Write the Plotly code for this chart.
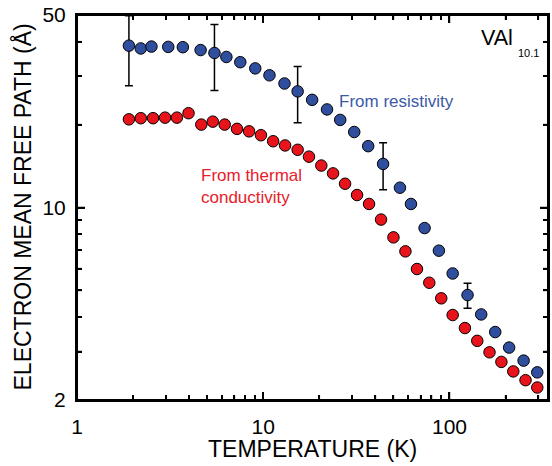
import plotly.graph_objects as go
import math

# ---- data ----
temp_resist = [1.90, 2.20, 2.51, 3.09, 3.70, 4.61, 5.47, 6.34, 7.53, 9.06, 10.8, 13.0, 15.3, 18.3,
               22.0, 25.9, 30.8, 36.6, 44.0, 54.2, 62.1, 73.5, 87.7, 104, 125, 148, 176, 209, 250, 296]
mfp_resist = [38.7, 37.8, 38.4, 38.3, 38.2, 37.3, 36.4, 35.2, 33.7, 32.0, 30.2, 28.2, 26.4, 24.6,
              22.7, 20.8, 18.8, 16.7, 14.4, 11.8, 10.3, 8.42, 6.97, 5.76, 4.81, 4.09, 3.53, 3.10, 2.78, 2.52]
err_resist = [11.0, None, None, None, None, None, 9.8, None, None, None, None, None, 6.1, None,
              None, None, None, None, 2.8, None, None, None, None, None, 0.5, None, None, None, None, None]

temp_thermal = [1.90, 2.20, 2.56, 2.97, 3.44, 3.97, 4.65, 5.36, 6.21, 7.23, 8.39, 9.72, 11.3, 13.1,
                15.3, 17.6, 20.5, 23.7, 27.5, 31.9, 37.0, 42.9, 50.0, 58.0, 66.9, 77.9, 90.3, 104,
                121, 141, 164, 190, 220, 256, 296]
mfp_thermal = [20.9, 21.1, 21.1, 21.2, 21.2, 22.0, 20.0, 20.5, 20.0, 19.3, 18.9, 18.3, 17.4, 16.8,
               16.2, 15.3, 14.2, 13.3, 12.2, 11.1, 10.3, 9.04, 7.79, 6.93, 5.98, 5.33, 4.68, 4.07,
               3.65, 3.28, 2.98, 2.75, 2.54, 2.36, 2.22]

x_major = [1, 10, 100]
x_minor = [2, 3, 4, 5, 6, 7, 8, 9, 20, 30, 40, 50, 60, 70, 80, 90, 200, 300]
y_major = [2, 10, 50]
y_minor = [3, 4, 5, 6, 7, 8, 9, 20, 30, 40]

X_MIN, X_MAX = 1, 338
Y_MIN, Y_MAX = 2, 50

BLUE = "#2f4f9e"
RED = "#e8141c"
FONT = "Liberation Sans, Arial, Helvetica, sans-serif"

fig = go.Figure()
fig.add_trace(go.Scatter(
    x=temp_thermal, y=mfp_thermal, mode="markers", name="From thermal conductivity",
    marker=dict(size=11.5, color=RED, line=dict(color="black", width=1)),
))
fig.add_trace(go.Scatter(
    x=temp_resist, y=mfp_resist, mode="markers", name="From resistivity",
    marker=dict(size=11.5, color=BLUE, line=dict(color="black", width=1)),
    error_y=dict(type="data", array=err_resist, symmetric=True, color="black",
                 thickness=1.5, width=4),
))

minor = dict(ticks="inside", ticklen=5, tickwidth=1.5, tickcolor="black",
             dtick="D1", showgrid=False)

axis_common = dict(
    type="log", showline=True, linecolor="black", linewidth=2, mirror="allticks",
    ticks="inside", ticklen=8, tickwidth=1.5, tickcolor="black",
    showgrid=False, zeroline=False, tickmode="array",
    tickfont=dict(family=FONT, size=21, color="black"),
    minor=minor,
)

fig.update_layout(
    xaxis=dict(**axis_common, range=[math.log10(X_MIN), math.log10(X_MAX)], tickvals=x_major,
               ticktext=[str(v) for v in x_major], ticklabelstandoff=7),
    yaxis=dict(**axis_common, range=[math.log10(Y_MIN), math.log10(Y_MAX)], tickvals=y_major,
               ticktext=[str(v) for v in y_major], ticklabelstandoff=5),
)

# frame and inside tick marks on all four sides, drawn as shapes on the axes' scales
TICK = dict(color="black", width=1.5)
shapes = [dict(type="rect", xref="paper", yref="paper", x0=0, x1=1, y0=0, y1=1,
               fillcolor="rgba(0,0,0,0)", opacity=1, layer="above",
               line=dict(color="black", width=2))]
for vals, ln in ((x_major, 8), (x_minor, 5)):
    for v in vals:
        shapes.append(dict(type="line", xref="x", yref="paper", x0=v, x1=v,
                           ysizemode="pixel", yanchor=0, y0=0, y1=ln,
                           opacity=1, layer="above", line=TICK))
        shapes.append(dict(type="line", xref="x", yref="paper", x0=v, x1=v,
                           ysizemode="pixel", yanchor=1, y0=0, y1=-ln,
                           opacity=1, layer="above", line=TICK))
for vals, ln in ((y_major, 8), (y_minor, 5)):
    for v in vals:
        shapes.append(dict(type="line", xref="paper", yref="y", y0=v, y1=v,
                           xsizemode="pixel", xanchor=0, x0=0, x1=ln,
                           opacity=1, layer="above", line=TICK))
        shapes.append(dict(type="line", xref="paper", yref="y", y0=v, y1=v,
                           xsizemode="pixel", xanchor=1, x0=0, x1=-ln,
                           opacity=1, layer="above", line=TICK))

annotations = [
    dict(text="TEMPERATURE (K)", xref="paper", yref="paper", x=0.5, y=0, yshift=-49,
         xanchor="center", yanchor="middle", showarrow=False,
         font=dict(family=FONT, size=23, color="black")),
    dict(text="ELECTRON MEAN FREE PATH (Å)", xref="paper", yref="paper", x=0, y=0.5, xshift=-55,
         xanchor="center", yanchor="middle", textangle=-90, showarrow=False,
         font=dict(family=FONT, size=23, color="black")),
    dict(text="From resistivity", xref="x", yref="y", x=1.396, y=1.384,
         xanchor="left", yanchor="middle", showarrow=False,
         font=dict(family=FONT, size=17, color="#3c5aa6")),
    dict(text="From thermal<br>conductivity", xref="x", yref="y", x=0.655, y=1.078,
         xanchor="left", yanchor="middle", align="left", showarrow=False,
         font=dict(family=FONT, size=17, color="#e8202a")),
    dict(text="VAl", xref="x", yref="y", x=2.353, y=1.614,
         xanchor="right", yanchor="middle", showarrow=False,
         font=dict(family=FONT, size=21.5, color="black")),
    dict(text="10.1", xref="x", yref="y", x=2.356, y=1.561,
         xanchor="left", yanchor="middle", showarrow=False,
         font=dict(family=FONT, size=11, color="black")),
]

fig.update_layout(
    template="simple_white",
    width=552, height=466,
    margin=dict(l=77, r=2, t=15, b=66),
    paper_bgcolor="white", plot_bgcolor="white",
    showlegend=False,
    font=dict(family=FONT, color="black"),
    annotations=annotations,
    shapes=shapes,
)

fig.write_html("out.html", config={"displayModeBar": False},
               post_script="document.body.style.margin='0';")
